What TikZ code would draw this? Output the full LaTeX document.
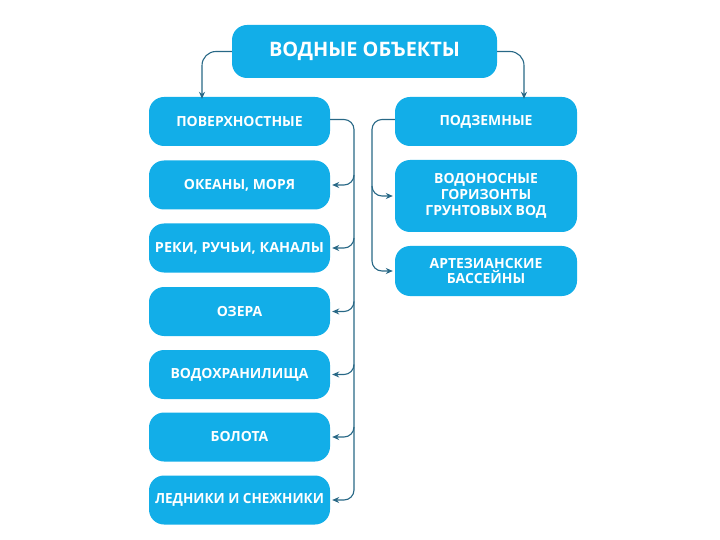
\documentclass[tikz,border=0pt]{standalone}
\usepackage{fontspec}
\usepackage{graphicx}
\setmainfont{Open Sans}
\usetikzlibrary{arrows.meta}
\definecolor{boxblue}{RGB}{18,174,232}
\definecolor{linecol}{RGB}{40,104,134}
\newcommand{\squeeze}[1]{\resizebox{169bp}{\height}{#1}}
\tikzset{
  box/.style={draw=none, fill=boxblue, rounded corners=15bp, text=white,
    font=\bfseries\fontsize{14}{16}\selectfont, align=center, inner sep=0pt},
  leftbox/.style={box, minimum width=181bp, minimum height=49bp},
  rightbox/.style={box, minimum width=182bp, minimum height=49bp},
  conn/.style={draw=linecol, line width=1.1bp, rounded corners=10bp},
  arr/.style={conn, -{Stealth[length=7bp,width=6bp]}}
}
\begin{document}
\begin{tikzpicture}[x=1bp,y=-1bp]
\useasboundingbox (0,0) rectangle (720,540);
\node[box, minimum width=265bp, minimum height=53bp, font=\bfseries\fontsize{20}{24}\selectfont] (top) at (364.5,51.5) {ВОДНЫЕ ОБЪЕКТЫ};

\node[leftbox] (surf) at (239.5,121.5) {ПОВЕРХНОСТНЫЕ};
\node[leftbox] (ocean) at (239.5,185) {ОКЕАНЫ, МОРЯ};
\node[leftbox] (river) at (239.5,248) {\squeeze{РЕКИ, РУЧЬИ, КАНАЛЫ}};
\node[leftbox] (lake) at (239.5,311.5) {ОЗЕРА};
\node[leftbox] (res) at (239.5,374.5) {ВОДОХРАНИЛИЩА};
\node[leftbox] (bog) at (239.5,437) {БОЛОТА};
\node[leftbox] (glac) at (239.5,500) {\squeeze{ЛЕДНИКИ И СНЕЖНИКИ}};

\node[rightbox] (under) at (486,121.5) {ПОДЗЕМНЫЕ};
\node[rightbox, minimum height=72bp] (aq) at (486,196) {ВОДОНОСНЫЕ\\ГОРИЗОНТЫ\\ГРУНТОВЫХ ВОД};
\node[rightbox, minimum height=50bp] (art) at (486,271) {АРТЕЗИАНСКИЕ\\БАССЕЙНЫ};

\coordinate (L) at (354,0);
\coordinate (R) at (372,0);
\coordinate (LT) at (202,0);
\coordinate (RT) at (524,0);

% top connectors
\draw[arr, rounded corners=14bp] (top.west) -| ([yshift=-2bp]surf.north -| LT);
\draw[arr, rounded corners=14bp] (top.east) -| ([yshift=-2bp]under.north -| RT);

% left trunk
\draw[conn] ([yshift=2bp]surf.east) -| ([yshift=10bp]glac.east -| L);
\foreach \b in {ocean,river,lake,res,bog,glac}{
  \draw[arr] ([yshift=10bp]\b.east -| L) |- ([xshift=2bp]\b.east);
}
% right trunk
\draw[conn] ([yshift=2bp]under.west) -| ([yshift=10bp]art.west -| R);
\foreach \b in {aq,art}{
  \draw[arr] ([yshift=10bp]\b.west -| R) |- ([xshift=-2bp]\b.west);
}
\end{tikzpicture}
\end{document}
